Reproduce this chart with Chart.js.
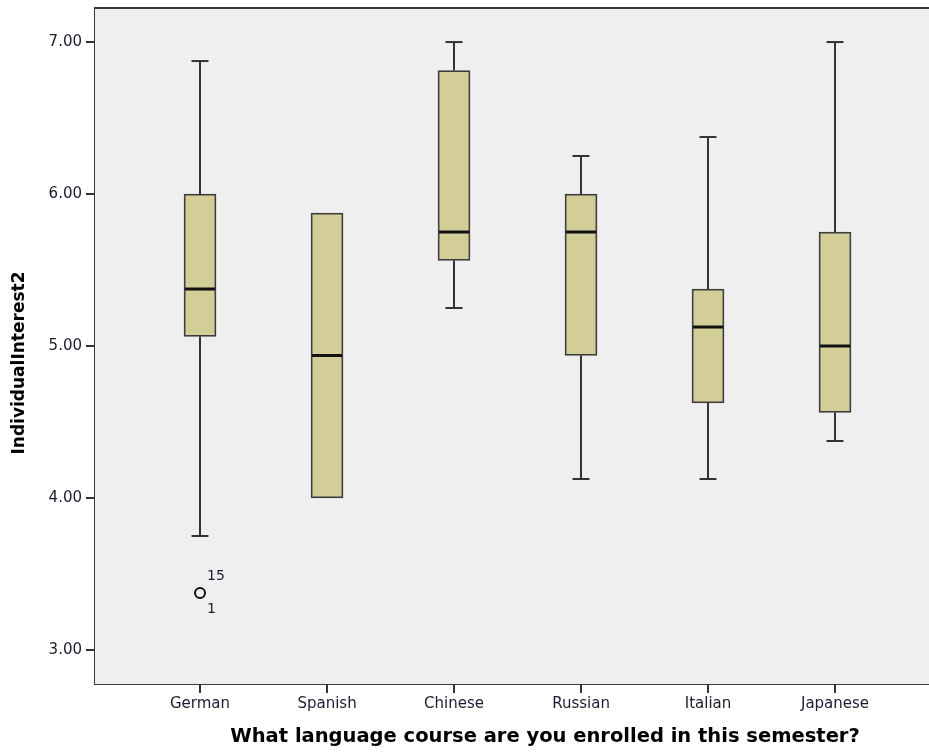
<!DOCTYPE html>
<html>
<head>
<meta charset="utf-8">
<title>IndividualInterest2 by language course</title>
<script src="https://cdn.jsdelivr.net/npm/chart.js@4/dist/chart.umd.min.js"></script>
<style>
  html, body { margin: 0; padding: 0; background: #ffffff; }
  #wrap { width: 929px; height: 752px; position: relative; }
</style>
</head>
<body>
<div id="wrap"><canvas id="chart" width="929" height="752"></canvas></div>
<script>
// Five-number summaries of IndividualInterest2 per language course
const categories  = ['German', 'Spanish', 'Chinese', 'Russian', 'Italian', 'Japanese'];
const whiskerLow  = [3.75,   4.00,   5.25,   4.125,  4.125, 4.375];
const q1          = [5.0625, 4.00,   5.5625, 4.9375, 4.625, 4.5625];
const median      = [5.375,  4.9375, 5.75,   5.75,   5.125, 5.00];
const q3          = [6.00,   5.875,  6.8125, 6.00,   5.375, 5.75];
const whiskerHigh = [6.875,  5.875,  7.00,   6.25,   6.375, 7.00];

// Outlying cases (category, value, case labels shown above / below the marker)
const outlierCategory = ['German'];
const outlierValue    = [3.375];
const outlierCaseUp   = ['15'];
const outlierCaseDown = ['1'];

const yTicks = [3, 4, 5, 6, 7];

const TEXT = '#1c1c30';
const LINE = '#333333';

const boxData = categories.map((c, i) => ({ x: i + 1, y: [q1[i], q3[i]] }));
const outlierData = outlierCategory.map((c, i) => ({ x: categories.indexOf(c) + 1, y: outlierValue[i] }));

// Keep the plot frame where the layout padding puts it
const noScalePadding = s => { s.paddingTop = 0; s.paddingBottom = 0; s.paddingLeft = 0; s.paddingRight = 0; };

// Plot background, top frame line, whiskers, medians, case labels and axis titles
const boxplotDecor = {
  id: 'boxplotDecor',
  beforeDatasetsDraw(chart) {
    const { ctx, chartArea: a } = chart;
    ctx.save();
    ctx.fillStyle = '#efefef';
    ctx.fillRect(a.left, a.top, a.right - a.left, a.bottom - a.top);
    ctx.restore();
  },
  afterDatasetsDraw(chart) {
    const { ctx, chartArea: a, scales: { x, y } } = chart;
    const meta = chart.getDatasetMeta(0);
    ctx.save();
    // whiskers with end caps
    ctx.strokeStyle = LINE;
    ctx.lineWidth = 2;
    categories.forEach((c, i) => {
      const px = Math.round(x.getPixelForValue(i + 1));
      const cap = 8.5;
      const segs = [[q3[i], whiskerHigh[i]], [whiskerLow[i], q1[i]]];
      segs.forEach(([lo, hi]) => {
        if (hi - lo <= 0) return;
        const yLo = y.getPixelForValue(lo), yHi = y.getPixelForValue(hi);
        ctx.beginPath();
        ctx.moveTo(px, yLo); ctx.lineTo(px, yHi);
        ctx.stroke();
      });
      if (whiskerHigh[i] > q3[i]) {
        const yy = y.getPixelForValue(whiskerHigh[i]);
        ctx.beginPath(); ctx.moveTo(px - cap, yy); ctx.lineTo(px + cap, yy); ctx.stroke();
      }
      if (whiskerLow[i] < q1[i]) {
        const yy = y.getPixelForValue(whiskerLow[i]);
        ctx.beginPath(); ctx.moveTo(px - cap, yy); ctx.lineTo(px + cap, yy); ctx.stroke();
      }
    });
    // medians across each box
    ctx.strokeStyle = '#111111';
    ctx.lineWidth = 3;
    meta.data.forEach((bar, i) => {
      const half = bar.width / 2;
      const yy = y.getPixelForValue(median[i]);
      ctx.beginPath();
      ctx.moveTo(bar.x - half + 1, yy); ctx.lineTo(bar.x + half - 1, yy);
      ctx.stroke();
    });
    // case numbers beside outliers
    ctx.fillStyle = TEXT;
    ctx.font = '14px "DejaVu Sans"';
    ctx.textAlign = 'left';
    ctx.textBaseline = 'middle';
    outlierData.forEach((p, i) => {
      const px = x.getPixelForValue(p.x), py = y.getPixelForValue(p.y);
      ctx.fillText(outlierCaseUp[i], px + 7, py - 17);
      ctx.fillText(outlierCaseDown[i], px + 7, py + 16);
    });
    // top frame line
    ctx.strokeStyle = '#3a3a3a';
    ctx.lineWidth = 2;
    ctx.beginPath();
    ctx.moveTo(a.left - 1, a.top); ctx.lineTo(a.right, a.top);
    ctx.stroke();
    ctx.restore();
  },
  afterDraw(chart) {
    const { ctx } = chart;
    ctx.save();
    ctx.fillStyle = '#000000';
    ctx.font = 'bold 19.5px "DejaVu Sans"';
    ctx.textAlign = 'center';
    ctx.textBaseline = 'middle';
    ctx.fillText('What language course are you enrolled in this semester?', 545, 737);
    ctx.translate(20, 363);
    ctx.rotate(-Math.PI / 2);
    ctx.font = 'bold 17px "DejaVu Sans"';
    ctx.fillText('IndividualInterest2', 0, 0);
    ctx.restore();
  }
};

new Chart(document.getElementById('chart'), {
  type: 'bar',
  data: {
    datasets: [
      {
        type: 'bar',
        data: boxData,
        backgroundColor: '#d3ce97',
        borderColor: '#3c3c3c',
        borderWidth: 1.75,
        borderSkipped: false,
        barThickness: 32,
        grouped: false
      },
      {
        type: 'scatter',
        data: outlierData,
        pointStyle: 'circle',
        pointRadius: 5,
        pointHoverRadius: 5,
        borderColor: '#111111',
        borderWidth: 2,
        backgroundColor: 'rgba(0,0,0,0)'
      }
    ]
  },
  options: {
    responsive: false,
    animation: false,
    events: [],
    layout: { autoPadding: false, padding: { top: 8, left: 0, right: 0, bottom: 0 } },
    plugins: { legend: { display: false }, tooltip: { enabled: false } },
    scales: {
      x: {
        type: 'linear',
        offset: false,
        min: 0.173,
        max: 6.74,
        afterBuildTicks: s => { s.ticks = categories.map((c, i) => ({ value: i + 1 })); },
        afterFit: s => { s.height = 68; noScalePadding(s); },
        ticks: {
          callback: v => categories[v - 1] || '',
          color: TEXT,
          font: { family: 'DejaVu Sans', size: 15 },
          padding: 2,
          maxRotation: 0,
          autoSkip: false
        },
        grid: { offset: false, drawOnChartArea: false, drawTicks: true, tickLength: 9, color: LINE, lineWidth: 2 },
        border: { display: true, color: '#3a3a3a', width: 2 }
      },
      y: {
        type: 'linear',
        min: 2.776,
        max: 7.224,
        afterBuildTicks: s => { s.ticks = yTicks.map(v => ({ value: v })); },
        afterFit: s => { s.width = 95; noScalePadding(s); },
        ticks: {
          callback: v => Number(v).toFixed(2),
          color: TEXT,
          font: { family: 'DejaVu Sans', size: 15 },
          padding: 4
        },
        grid: { drawOnChartArea: false, drawTicks: true, tickLength: 9, color: LINE, lineWidth: 2 },
        border: { display: true, color: '#3a3a3a', width: 2 }
      }
    }
  },
  plugins: [boxplotDecor]
});
</script>
</body>
</html>
